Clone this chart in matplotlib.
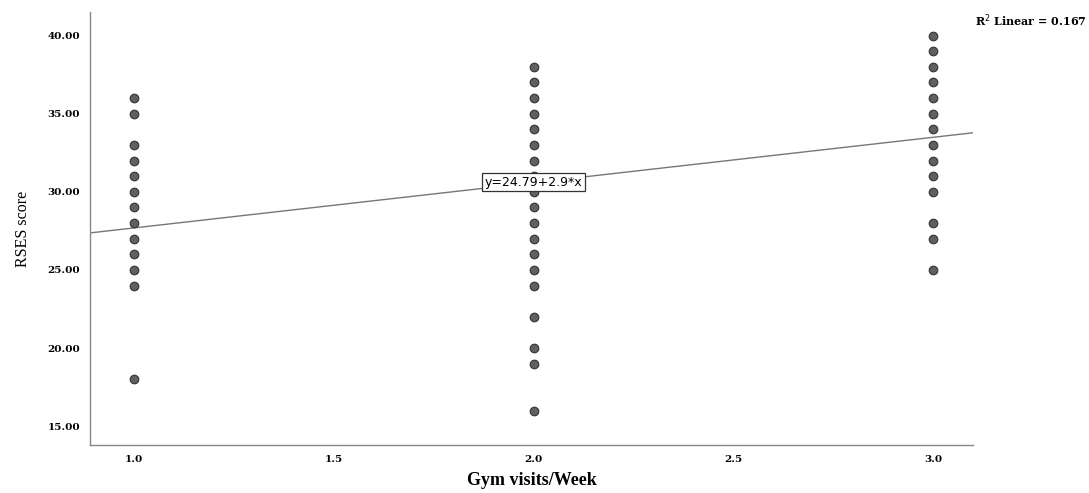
import numpy as np
import matplotlib.pyplot as plt

# RSES scores per gym-visit group
visits = [1.0, 2.0, 3.0]
scores_1 = [36, 35, 33, 32, 31, 30, 29, 28, 27, 26, 25, 24, 18]
scores_2 = [38, 37, 36, 35, 34, 33, 32, 31, 30, 29, 28, 27, 26, 25, 24, 22, 20, 19, 16]
scores_3 = [40, 39, 38, 37, 36, 35, 34, 33, 32, 31, 30, 28, 27, 25]
intercept = 24.79
slope = 2.9
r2 = 0.167

xticks = [1.0, 1.5, 2.0, 2.5, 3.0]
yticks = [15, 20, 25, 30, 35, 40]

fig = plt.figure(figsize=(10.89, 4.93), dpi=100)
ax = fig.add_axes([0.0826, 0.0974, 0.811, 0.878])

xs = []
ys = []
for v, s in zip(visits, [scores_1, scores_2, scores_3]):
	xs += [v] * len(s)
	ys += s
ax.plot(xs, ys, linestyle='none', marker='o', markersize=6.2,
		markerfacecolor='#606060', markeredgecolor='#333333', markeredgewidth=0.8, zorder=3)

xlim = (0.89, 3.1)
ax.set_xlim(xlim)
ax.set_ylim(13.8, 41.5)
lx = np.array(xlim)
ax.plot(lx, intercept + slope * lx, color='#777777', linewidth=1.0, zorder=2)

ax.text(2.0, 30.6, 'y=%.2f+%.1f*x' % (intercept, slope), ha='center', va='center',
		fontsize=9, family='DejaVu Sans', zorder=4,
		bbox=dict(boxstyle='square,pad=0.2', facecolor='white', edgecolor='#333333', linewidth=0.9))

for s in ['top', 'right']:
	ax.spines[s].set_visible(False)
for s in ['left', 'bottom']:
	ax.spines[s].set_color('#888888')
	ax.spines[s].set_linewidth(1.0)

ax.set_xticks(xticks)
ax.set_xticklabels(['%.1f' % t for t in xticks])
ax.set_yticks(yticks)
ax.set_yticklabels(['%.2f' % t for t in yticks])
ax.tick_params(length=0, pad=7)
for lab in ax.get_xticklabels() + ax.get_yticklabels():
	lab.set_family('DejaVu Serif')
	lab.set_fontweight('bold')
	lab.set_fontsize(7.5)

ax.set_xlabel('Gym visits/Week', family='Liberation Serif', fontweight='bold', fontsize=13, labelpad=6)
ax.set_ylabel('RSES score', family='Liberation Serif', fontsize=11.5, labelpad=12)

fig.text(0.895, 0.958, 'R$^2$ Linear = %.3f' % r2, family='DejaVu Serif',
		 fontweight='bold', fontsize=8, ha='left', va='center')

fig.savefig('out.png', dpi=100)
